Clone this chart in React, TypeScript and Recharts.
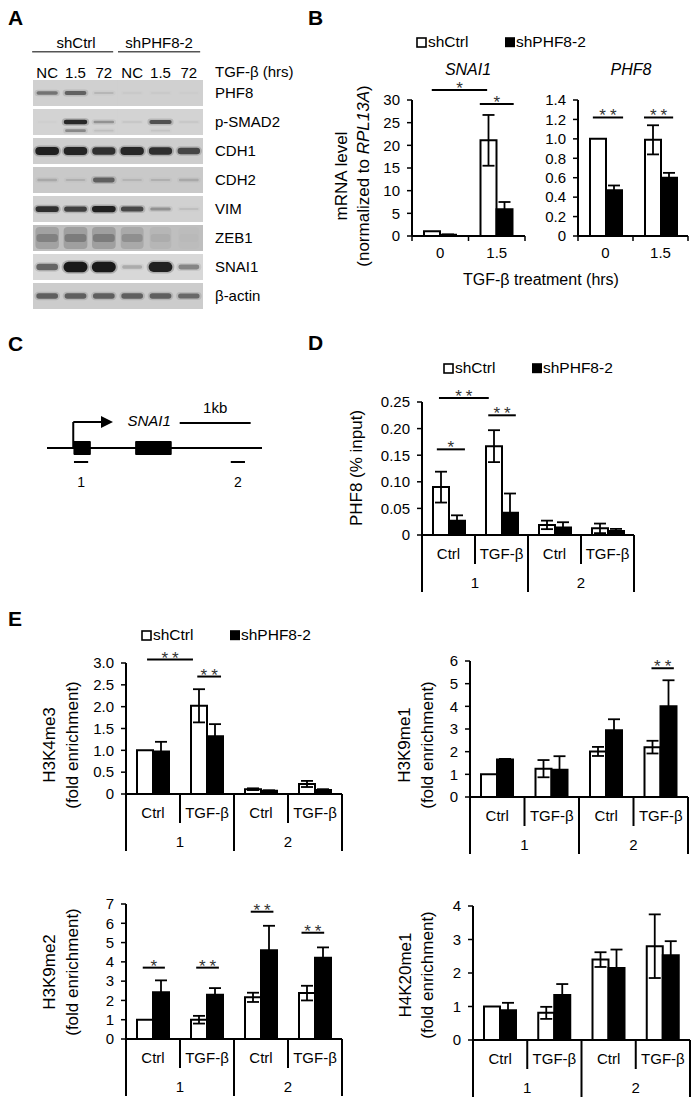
import React from 'react';
import {
  BarChart, Bar, XAxis, YAxis, ErrorBar, ReferenceLine, ReferenceDot, ReferenceArea,
  ScatterChart, Scatter,
} from 'recharts';

const FONT = '"Liberation Sans", Arial, Helvetica, sans-serif';

// ---------------- Panel A: western blot ----------------
const blotLanes = ['NC', '1.5', '72', 'NC', '1.5', '72'];
const blotGroups = ['shCtrl', 'shPHF8-2'];
const blotGroupCenters = [1.02, 3.95];
const blotAxisTitle = 'TGF-β (hrs)';
const blotProteins = ['PHF8', 'p-SMAD2', 'CDH1', 'CDH2', 'VIM', 'ZEB1', 'SNAI1', 'β-actin'];
const blotBands = [
  [0.45, 0.55, 0.12, 0.03, 0.03, 0.02],
  [0.02, 0.9, 0.3, 0.06, 0.65, 0.05],
  [0.95, 0.92, 0.85, 0.9, 0.85, 0.7],
  [0.15, 0.12, 0.55, 0.1, 0.12, 0.15],
  [0.85, 0.75, 0.95, 0.7, 0.3, 0.08],
  [0.5, 0.55, 0.55, 0.38, 0.14, 0.04],
  [0.55, 1.0, 1.0, 0.2, 0.95, 0.38],
  [0.55, 0.55, 0.55, 0.55, 0.55, 0.5],
];
const pSmad2LowerBand = [0, 0.35, 0.08, 0, 0.06, 0];

// ---------------- Panel B: mRNA ----------------
const mrnaCats = ['0', '1.5'];
const snai1Ctrl = [1.05, 21.1];
const snai1CtrlErr = [0, 5.6];
const snai1Kd = [0.3, 5.9];
const snai1KdErr = [0.05, 1.6];
const snai1Ticks = [0, 5, 10, 15, 20, 25, 30];
const snai1Sig = [
  { x1: 0.35, x2: 1.33, y: 32.2, t: '*' },
  { x1: 1.2, x2: 1.8, y: 29.1, t: '*' },
];
const phf8Ctrl = [1.0, 0.99];
const phf8CtrlErr = [0, 0.15];
const phf8Kd = [0.47, 0.6];
const phf8KdErr = [0.05, 0.05];
const phf8Ticks = [0, 0.2, 0.4, 0.6, 0.8, 1.0, 1.2, 1.4];
const phf8Sig = [
  { x1: 0.27, x2: 0.82, y: 1.22, t: '**' },
  { x1: 1.2, x2: 1.73, y: 1.22, t: '**' },
];

// ---------------- Panel C: gene diagram (kb) ----------------
const geneLength = 3.03;
const exons = [[0.38, 0.61], [1.25, 1.75]];
const tssPos = 0.37;
const arrowTip = 0.93;
const scaleBar = [1.87, 2.87];
const amplicons = [[0.38, 0.58], [2.59, 2.79]];
const ampliconLabels = ['1', '2'];

// ---------------- Panel D: PHF8 ChIP ----------------
const chipCats = ['1|Ctrl', '1|TGF-β', '2|Ctrl', '2|TGF-β'];
const chipCtrl = [0.09, 0.167, 0.019, 0.0125];
const chipCtrlErr = [0.029, 0.03, 0.008, 0.009];
const chipKd = [0.027, 0.042, 0.014, 0.0075];
const chipKdErr = [0.01, 0.036, 0.01, 0.004];
const chipTicks = [0, 0.05, 0.1, 0.15, 0.2, 0.25];
const chipSig = [
  { x1: 0.28, x2: 0.81, y: 0.161, t: '*' },
  { x1: 0.32, x2: 1.26, y: 0.2576, t: '**' },
  { x1: 1.25, x2: 1.77, y: 0.225, t: '**' },
];

// ---------------- Panel E: histone marks ----------------
const h3k4Ctrl = [1.0, 2.02, 0.11, 0.23];
const h3k4CtrlErr = [0, 0.38, 0.02, 0.07];
const h3k4Kd = [0.975, 1.32, 0.075, 0.09];
const h3k4KdErr = [0.22, 0.28, 0.01, 0.02];
const h3k4Ticks = [0, 0.5, 1, 1.5, 2, 2.5, 3];
const h3k4Sig = [
  { x1: 0.39, x2: 1.24, y: 3.08, t: '**' },
  { x1: 1.32, x2: 1.76, y: 2.69, t: '**' },
];
const h3k9me1Ctrl = [1.0, 1.25, 2.01, 2.2];
const h3k9me1CtrlErr = [0, 0.38, 0.2, 0.28];
const h3k9me1Kd = [1.65, 1.2, 2.94, 4.0];
const h3k9me1KdErr = [0.03, 0.6, 0.49, 1.15];
const h3k9me1Ticks = [0, 1, 2, 3, 4, 5, 6];
const h3k9me1Sig = [{ x1: 3.33, x2: 3.74, y: 5.68, t: '**' }];
const h3k9me2Ctrl = [1.0, 1.0, 2.16, 2.38];
const h3k9me2CtrlErr = [0, 0.2, 0.24, 0.38];
const h3k9me2Kd = [2.42, 2.3, 4.6, 4.21];
const h3k9me2KdErr = [0.62, 0.34, 1.27, 0.54];
const h3k9me2Ticks = [0, 1, 2, 3, 4, 5, 6, 7];
const h3k9me2Sig = [
  { x1: 0.31, x2: 0.72, y: 3.7, t: '*' },
  { x1: 1.3, x2: 1.72, y: 3.7, t: '**' },
  { x1: 2.31, x2: 2.73, y: 6.6, t: '**' },
  { x1: 3.25, x2: 3.67, y: 5.51, t: '**' },
];
const h4k20Ctrl = [1.0, 0.81, 2.4, 2.8];
const h4k20CtrlErr = [0, 0.18, 0.22, 0.95];
const h4k20Kd = [0.89, 1.34, 2.15, 2.53];
const h4k20KdErr = [0.22, 0.33, 0.55, 0.42];
const h4k20Ticks = [0, 1, 2, 3, 4];

const legendNames = ['shCtrl', 'shPHF8-2'];

// ---------------- helpers ----------------
const rowBg = ['#d0d0d0', '#d3d3d3', '#cecece', '#c9c9c9', '#d1d1d1', '#bfbfbf', '#d8d8d8', '#cccccc'];
const rowThick = [4.5, 3.5, 7, 6, 5, 8, 9, 7];

const BlotBg = (p: any) => (
  <rect x={p.cx - 14.5} y={p.cy - 13} width={29} height={26} fill={rowBg[p.payload.row]} />
);

const BlotBand = (p: any) => {
  const { cx, cy, payload } = p;
  const v = payload.v;
  const r = payload.row;
  if (!(v > 0)) return <g />;
  const w = 19 + 5 * v;
  if (r === 5) {
    return (
      <g>
        <rect x={cx - w / 2 - 1} y={cy - 11} width={w + 2} height={22} rx={4} fill="#000" fillOpacity={v * 0.3} />
        <rect x={cx - w / 2} y={cy - 4} width={w} height={8} rx={3} fill="#000" fillOpacity={v * 0.4} />
      </g>
    );
  }
  const h = 1.5 + rowThick[r] * v;
  return (
    <g>
      <rect x={cx - w / 2 - 2} y={cy - h / 2 - 1.5} width={w + 4} height={h + 3} rx={(h + 3) / 2} fill="#000" fillOpacity={v * 0.2} />
      <rect x={cx - w / 2} y={cy - h / 2} width={w} height={h} rx={h / 2} fill="#111" fillOpacity={Math.min(1, v * 0.95)} />
    </g>
  );
};

const CenterText = (p: any) => (
  <text x={p.cx} y={p.cy + 5.5} textAnchor="middle" fontSize={15} fontFamily={FONT} fill="#000">
    {p.payload.t}
  </text>
);
const CenterTextSmall = (p: any) => (
  <text x={p.cx} y={p.cy + 5} textAnchor="middle" fontSize={14} fontFamily={FONT} fill="#000">
    {p.payload.t}
  </text>
);
const CenterTextItalic = (p: any) => (
  <text x={p.cx} y={p.cy + 5} textAnchor="middle" fontSize={15} fontStyle="italic" fontFamily={FONT} fill="#000">
    {p.payload.t}
  </text>
);
const ArrowHead = (p: any) => (
  <polygon points={`${p.cx},${p.cy} ${p.cx - 12},${p.cy - 6} ${p.cx - 12},${p.cy + 6}`} fill="#000" />
);

const SimpleTick = (p: any) => {
  const { x, y, payload, index, visibleTicksCount } = p;
  const half = payload && typeof payload.offset === 'number' && payload.offset > 0 ? payload.offset : 28;
  return (
    <g>
      <line x1={x - half} y1={y} x2={x - half} y2={y + 5} stroke="#000" strokeWidth={1.5} />
      {index === visibleTicksCount - 1 && (
        <line x1={x + half} y1={y} x2={x + half} y2={y + 5} stroke="#000" strokeWidth={1.5} />
      )}
      <text x={x} y={y + 22} textAnchor="middle" fontSize={15} fontFamily={FONT} fill="#000">
        {payload.value}
      </text>
    </g>
  );
};

const GroupTick = (p: any) => {
  const { x, y, payload, index, visibleTicksCount } = p;
  const half = payload && typeof payload.offset === 'number' && payload.offset > 0 ? payload.offset : 27;
  const parts = String(payload.value).split('|');
  const grp = parts[0];
  const sub = parts[1];
  const longLen = 57;
  const shortLen = 29;
  return (
    <g>
      <line x1={x - half} y1={y} x2={x - half} y2={y + (index % 2 === 0 ? longLen : shortLen)} stroke="#000" strokeWidth={2} />
      {index === visibleTicksCount - 1 && (
        <line x1={x + half} y1={y} x2={x + half} y2={y + longLen} stroke="#000" strokeWidth={2} />
      )}
      <text x={x} y={y + 24} textAnchor="middle" fontSize={15} fontFamily={FONT} fill="#000">
        {sub}
      </text>
      {index % 2 === 1 && (
        <text x={x - half} y={y + 53} textAnchor="middle" fontSize={15} fontFamily={FONT} fill="#000">
          {grp}
        </text>
      )}
    </g>
  );
};

type Sig = { x1: number; x2: number; y: number; t: string };

type PanelProps = {
  left: number; top: number; width: number; height: number;
  mTop: number; mRight: number; yWidth: number; xHeight: number;
  cats: string[]; ctrl: number[]; ctrlErr: number[]; kd: number[]; kdErr: number[];
  yMax: number; ticks: number[]; fmt: (v: number) => string; sigs: Sig[];
  grouped: boolean; tickFont: number;
};

function BarPanel(props: PanelProps) {
  const {
    left, top, width, height, mTop, mRight, yWidth, xHeight,
    cats, ctrl, ctrlErr, kd, kdErr, yMax, ticks, fmt, sigs, grouped, tickFont,
  } = props;
  const data = cats.map((c, i) => ({
    cat: c, pos: i + 0.5, ctrl: ctrl[i], ctrlErr: ctrlErr[i], kd: kd[i], kdErr: kdErr[i],
  }));
  return (
    <div style={{ position: 'absolute', left, top }}>
      <BarChart
        width={width}
        height={height}
        data={data}
        margin={{ top: mTop, right: mRight, bottom: 0, left: 0 }}
        barGap={0}
        barSize={16}
      >
        <XAxis
          dataKey="cat"
          height={xHeight}
          interval={0}
          tickLine={false}
          tickSize={0}
          tickMargin={0}
          axisLine={{ stroke: '#000', strokeWidth: 2 }}
          tick={grouped ? <GroupTick /> : <SimpleTick />}
        />
        <XAxis xAxisId="num" dataKey="pos" type="number" domain={[0, cats.length]} hide allowDataOverflow />
        <YAxis
          type="number"
          domain={[0, yMax]}
          ticks={ticks}
          interval={0}
          width={yWidth}
          allowDataOverflow
          tickFormatter={fmt}
          axisLine={{ stroke: '#000', strokeWidth: 2 }}
          tickLine={{ stroke: '#000', strokeWidth: 1.5 }}
          tickSize={5}
          tickMargin={7}
          tick={{ fill: '#000', fontSize: tickFont, fontFamily: FONT }}
        />
        <Bar dataKey="ctrl" fill="#fff" stroke="#000" strokeWidth={2} isAnimationActive={false}>
          <ErrorBar dataKey="ctrlErr" width={6} stroke="#000" strokeWidth={1.8} isAnimationActive={false} />
        </Bar>
        <Bar dataKey="kd" fill="#000" stroke="#000" strokeWidth={2} isAnimationActive={false}>
          <ErrorBar dataKey="kdErr" width={6} stroke="#000" strokeWidth={1.8} isAnimationActive={false} />
        </Bar>
        {sigs.map((s, i) => (
          <ReferenceLine
            key={'l' + i}
            xAxisId="num"
            segment={[{ x: s.x1, y: s.y }, { x: s.x2, y: s.y }]}
            stroke="#000"
            strokeWidth={2}
            ifOverflow="visible"
          />
        ))}
        {sigs.map((s, i) => (
          <ReferenceDot
            key={'d' + i}
            xAxisId="num"
            x={(s.x1 + s.x2) / 2}
            y={s.y}
            r={1}
            ifOverflow="visible"
            shape={(p: any) => (
              <text x={p.cx + (s.t.length > 1 ? 2 : 0)} y={p.cy + 4} textAnchor="middle" fontSize={17} letterSpacing={s.t.length > 1 ? 4 : 0} fontFamily={FONT} fill="#333">
                {s.t}
              </text>
            )}
          />
        ))}
      </BarChart>
    </div>
  );
}

const fmtInt = (v: number) => String(Math.round(v));
const fmt1 = (v: number) => (v === 0 ? '0' : v.toFixed(1));
const fmt2 = (v: number) => (v === 0 ? '0' : v.toFixed(2));

function Blot() {
  const bgData: any[] = [];
  const bandData: any[] = [];
  blotProteins.forEach((_, r) => blotLanes.forEach((__, l) => bgData.push({ x: l, y: r, row: r })));
  blotBands.forEach((row, r) => row.forEach((v, l) => bandData.push({ x: l, y: r, v, row: r })));
  pSmad2LowerBand.forEach((v, l) => { if (v > 0) bandData.push({ x: l, y: 1.3, v, row: 1 }); });
  const laneData = blotLanes.map((t, i) => ({ x: i, y: -0.72, t }));
  const groupData = blotGroups.map((t, i) => ({ x: blotGroupCenters[i], y: -1.74, t }));
  const ticks = [-0.72, 0, 1, 2, 3, 4, 5, 6, 7];
  return (
    <div style={{ position: 'absolute', left: 0, top: 0 }}>
      <ScatterChart width={340} height={330} margin={{ top: 20.5, right: 12, bottom: 16.6, left: 33 }}>
        <XAxis type="number" dataKey="x" domain={[-0.5, 5.5]} hide allowDataOverflow />
        <YAxis
          type="number"
          dataKey="y"
          domain={[-2.5, 7.6]}
          reversed
          orientation="right"
          width={125}
          ticks={ticks}
          interval={0}
          allowDataOverflow
          axisLine={false}
          tickLine={false}
          tickSize={0}
          tickMargin={12}
          tickFormatter={(v: number) => (v < 0 ? blotAxisTitle : blotProteins[Math.round(v)])}
          tick={{ fill: '#000', fontSize: 15, fontFamily: FONT }}
        />
        <Scatter data={bgData} shape={BlotBg} isAnimationActive={false} />
        <Scatter data={bandData} shape={BlotBand} isAnimationActive={false} />
        <Scatter data={laneData} shape={CenterText} isAnimationActive={false} />
        <Scatter data={groupData} shape={CenterText} isAnimationActive={false} />
        <ReferenceLine segment={[{ x: -0.53, y: -1.42 }, { x: 2.33, y: -1.42 }]} stroke="#555" strokeWidth={1.5} ifOverflow="visible" />
        <ReferenceLine segment={[{ x: 2.5, y: -1.42 }, { x: 5.4, y: -1.42 }]} stroke="#555" strokeWidth={1.5} ifOverflow="visible" />
      </ScatterChart>
    </div>
  );
}

function Gene() {
  const labelData = [{ x: 2.37, y: 4.05, t: '1kb' }];
  const ampData = amplicons.map((a, i) => ({ x: (a[0] + a[1]) / 2, y: -3.35, t: ampliconLabels[i] }));
  const geneName = [{ x: 1.44, y: 2.7, t: 'SNAI1' }];
  return (
    <div style={{ position: 'absolute', left: 0, top: 380 }}>
      <ScatterChart width={340} height={130} margin={{ top: 18, right: 78, bottom: 12, left: 47 }}>
        <XAxis type="number" dataKey="x" domain={[0, geneLength]} hide allowDataOverflow />
        <YAxis type="number" dataKey="y" domain={[-5, 5]} hide allowDataOverflow />
        <ReferenceLine segment={[{ x: 0, y: 0 }, { x: geneLength, y: 0 }]} stroke="#000" strokeWidth={2} ifOverflow="visible" />
        {exons.map((e, i) => (
          <ReferenceArea key={i} x1={e[0]} x2={e[1]} y1={-0.65} y2={0.65} fill="#000" fillOpacity={1} stroke="#000" ifOverflow="visible" />
        ))}
        <ReferenceLine segment={[{ x: tssPos, y: 0 }, { x: tssPos, y: 2.6 }]} stroke="#000" strokeWidth={2} ifOverflow="visible" />
        <ReferenceLine segment={[{ x: tssPos, y: 2.6 }, { x: arrowTip - 0.12, y: 2.6 }]} stroke="#000" strokeWidth={2} ifOverflow="visible" />
        <ReferenceLine segment={[{ x: scaleBar[0], y: 2.5 }, { x: scaleBar[1], y: 2.5 }]} stroke="#000" strokeWidth={2} ifOverflow="visible" />
        {amplicons.map((a, i) => (
          <ReferenceLine key={'a' + i} segment={[{ x: a[0], y: -1.4 }, { x: a[1], y: -1.4 }]} stroke="#000" strokeWidth={2} ifOverflow="visible" />
        ))}
        <Scatter data={[{ x: arrowTip, y: 2.6 }]} shape={ArrowHead} isAnimationActive={false} />
        <Scatter data={geneName} shape={CenterTextItalic} isAnimationActive={false} />
        <Scatter data={labelData} shape={CenterText} isAnimationActive={false} />
        <Scatter data={ampData} shape={CenterTextSmall} isAnimationActive={false} />
      </ScatterChart>
    </div>
  );
}

function LegendSvg({ x1, x2, baseline }: { x1: number; x2: number; baseline: number }) {
  return (
    <g>
      <rect x={x1} y={baseline - 9} width={9} height={9} fill="#fff" stroke="#000" strokeWidth={1.6} />
      <text x={x1 + 11} y={baseline} fontSize={15.5}>{legendNames[0]}</text>
      <rect x={x2} y={baseline - 9.8} width={10} height={10} fill="#000" />
      <text x={x2 + 11} y={baseline} fontSize={15.5}>{legendNames[1]}</text>
    </g>
  );
}

function VLabel({ x, y, children, size = 17 }: { x: number; y: number; children: React.ReactNode; size?: number }) {
  return (
    <text transform={`translate(${x},${y}) rotate(-90)`} textAnchor="middle" fontSize={size}>
      {children}
    </text>
  );
}

export default function App() {
  return (
    <div style={{ position: 'absolute', left: 0, top: 0, width: 698, height: 1104, background: '#fff', fontFamily: FONT }}>
      <Blot />
      <BarPanel left={330} top={60} width={200} height={206} mTop={40} mRight={5} yWidth={82} xHeight={30}
        cats={mrnaCats} ctrl={snai1Ctrl} ctrlErr={snai1CtrlErr} kd={snai1Kd} kdErr={snai1KdErr}
        yMax={30} ticks={snai1Ticks} fmt={fmtInt} sigs={snai1Sig} grouped={false} tickFont={15} />
      <BarPanel left={500} top={60} width={195} height={206} mTop={40} mRight={7} yWidth={78} xHeight={30}
        cats={mrnaCats} ctrl={phf8Ctrl} ctrlErr={phf8CtrlErr} kd={phf8Kd} kdErr={phf8KdErr}
        yMax={1.4} ticks={phf8Ticks} fmt={fmt1} sigs={phf8Sig} grouped={false} tickFont={15} />
      <Gene />
      <BarPanel left={340} top={345} width={300} height={252} mTop={57} mRight={6} yWidth={82} xHeight={62}
        cats={chipCats} ctrl={chipCtrl} ctrlErr={chipCtrlErr} kd={chipKd} kdErr={chipKdErr}
        yMax={0.25} ticks={chipTicks} fmt={fmt2} sigs={chipSig} grouped tickFont={15} />
      <BarPanel left={20} top={625} width={330} height={231} mTop={38} mRight={8} yWidth={106} xHeight={62}
        cats={chipCats} ctrl={h3k4Ctrl} ctrlErr={h3k4CtrlErr} kd={h3k4Kd} kdErr={h3k4KdErr}
        yMax={3} ticks={h3k4Ticks} fmt={fmt1} sigs={h3k4Sig} grouped tickFont={15} />
      <BarPanel left={365} top={625} width={330} height={234} mTop={36} mRight={7} yWidth={105} xHeight={62}
        cats={chipCats} ctrl={h3k9me1Ctrl} ctrlErr={h3k9me1CtrlErr} kd={h3k9me1Kd} kdErr={h3k9me1KdErr}
        yMax={6} ticks={h3k9me1Ticks} fmt={fmtInt} sigs={h3k9me1Sig} grouped tickFont={15} />
      <BarPanel left={20} top={870} width={330} height={231} mTop={34} mRight={8} yWidth={106} xHeight={62}
        cats={chipCats} ctrl={h3k9me2Ctrl} ctrlErr={h3k9me2CtrlErr} kd={h3k9me2Kd} kdErr={h3k9me2KdErr}
        yMax={7} ticks={h3k9me2Ticks} fmt={fmtInt} sigs={h3k9me2Sig} grouped tickFont={15} />
      <BarPanel left={365} top={870} width={330} height={232} mTop={36} mRight={5} yWidth={108} xHeight={62}
        cats={chipCats} ctrl={h4k20Ctrl} ctrlErr={h4k20CtrlErr} kd={h4k20Kd} kdErr={h4k20KdErr}
        yMax={4} ticks={h4k20Ticks} fmt={fmtInt} sigs={[]} grouped tickFont={15} />

      <svg width={698} height={1104} style={{ position: 'absolute', left: 0, top: 0, pointerEvents: 'none' }} fontFamily={FONT} fill="#000">
        <g fontSize={21} fontWeight="bold">
          <text x={8} y={25}>A</text>
          <text x={308} y={25}>B</text>
          <text x={8} y={351}>C</text>
          <text x={308} y={350}>D</text>
          <text x={8} y={626}>E</text>
        </g>
        <LegendSvg x1={417} x2={505} baseline={47} />
        <LegendSvg x1={444} x2={532} baseline={373} />
        <LegendSvg x1={142} x2={230} baseline={640} />
        <text x={468} y={75} textAnchor="middle" fontSize={16} fontStyle="italic">SNAI1</text>
        <text x={631} y={75} textAnchor="middle" fontSize={16} fontStyle="italic">PHF8</text>
        <text x={541} y={285} textAnchor="middle" fontSize={16}>TGF-β treatment (hrs)</text>
        <VLabel x={347} y={176}>mRNA level</VLabel>
        <VLabel x={369} y={176}>
          (normalized to <tspan fontStyle="italic">RPL13A</tspan>)
        </VLabel>
        <VLabel x={362} y={468}>PHF8 (% input)</VLabel>
        <VLabel x={55} y={745}>H3K4me3</VLabel>
        <VLabel x={78} y={745}>(fold enrichment)</VLabel>
        <VLabel x={410} y={745}>H3K9me1</VLabel>
        <VLabel x={433} y={745}>(fold enrichment)</VLabel>
        <VLabel x={55} y={972}>H3K9me2</VLabel>
        <VLabel x={78} y={972}>(fold enrichment)</VLabel>
        <VLabel x={411} y={975}>H4K20me1</VLabel>
        <VLabel x={433} y={975}>(fold enrichment)</VLabel>
      </svg>
    </div>
  );
}
